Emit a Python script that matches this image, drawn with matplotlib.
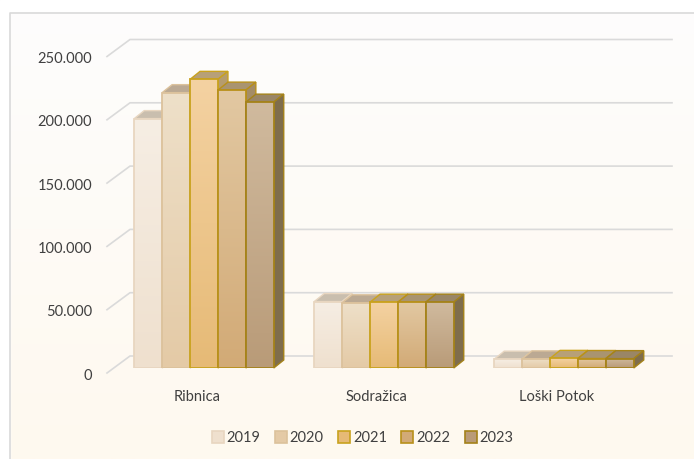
import matplotlib.pyplot as plt
import numpy as np
from matplotlib.patches import Polygon, Rectangle
from matplotlib.lines import Line2D
from matplotlib.colors import LinearSegmentedColormap

plt.rcParams['font.family'] = ['Lato', 'DejaVu Sans']

municipalities = ["Ribnica", "Sodražica", "Loški Potok"]
years = ["2019", "2020", "2021", "2022", "2023"]
values = {
    "2019": [197000, 52500, 7000],
    "2020": [217500, 51500, 7200],
    "2021": [228000, 52000, 7600],
    "2022": [219500, 52000, 7500],
    "2023": [210000, 52000, 7400],
}
y_ticks = [0, 50000, 100000, 150000, 200000, 250000]
y_tick_labels = ["0", "50.000", "100.000", "150.000", "200.000", "250.000"]

# front colour (top, bottom), edge, top face, side face
face_top = ["#f6eee4", "#eee0c9", "#f4d2a2", "#e2c8a2", "#d0ba9e"]
face_bot = ["#efe0ce", "#e4caa6", "#e6ba76", "#d2aa76", "#b99b78"]
edge_col = ["#e8d6c0", "#dcc29c", "#c9a21e", "#b8901a", "#a4821a"]
top_col = ["#c9beae", "#bba993", "#b7a078", "#a99470", "#9a8666"]
side_col = ["#cfc3b2", "#c4b097", "#b59c6e", "#a48c66", "#7f6d4c"]

W, H = 694, 459
fig = plt.figure(figsize=(W / 100, H / 100), dpi=100)

# background
bg = fig.add_axes([0, 0, 1, 1], zorder=-5)
bg.set_axis_off()
grad = np.linspace(0, 1, 256)[:, None]
bg_cmap = LinearSegmentedColormap.from_list("bg", ["#fdfdfd", "#fff9ef"])
bg.imshow(grad, aspect="auto", cmap=bg_cmap, extent=[0, 1, 0, 1], origin="upper")
bg.set_xlim(0, 1)
bg.set_ylim(0, 1)
bg.add_patch(Rectangle((0, 0), 10 / W, 1, color="white", zorder=2))
bg.add_patch(Rectangle((0, 1 - 13 / H), 1, 13 / H, color="white", zorder=2))
bg.plot([10 / W, 10 / W, 1.0], [0, 1 - 13 / H, 1 - 13 / H], color="#d9d9d9", lw=1.2, zorder=3)

# axes = plane of the bar front faces
x0px, x1px, y0px, y1px = 114, 654, 368, 51.5
ax = fig.add_axes([x0px / W, 1 - y0px / H, (x1px - x0px) / W, (y0px - y1px) / H])
ax.set_xlim(-0.5, 2.5)
ax.set_ylim(0, 250000)
ax.set_axis_off()
ax.patch.set_alpha(0)

ux = 3 / (x1px - x0px)          # data units per px (x)
uy = 250000 / (y0px - y1px)     # data units per px (y)

# gridlines: back wall + diagonal to front axis
for v in y_ticks:
    bx0 = -0.5 + 16 * ux
    bx1 = -0.5 + 558 * ux
    by = v + 12 * uy
    fx = -0.5 - 7 * ux
    fy = v - 5 * uy
    ax.plot([fx, bx0, bx1], [fy, by, by], color="#dadada", lw=1.2, clip_on=False, zorder=0)

for v, lab in zip(y_ticks, y_tick_labels):
    ax.text(-0.5 - 22 * ux, v - 7.5 * uy, lab, ha="right", va="center",
            fontsize=10.5, color="#404040", clip_on=False)

x = np.arange(len(municipalities))
bw = 0.155
dx, dy = 10 * ux, 8 * uy
z = 2
for i, yr in enumerate(years):
    xs = x + (i - 2) * bw
    cmap = LinearSegmentedColormap.from_list("c" + yr, [face_top[i], face_bot[i]])
    bars = ax.bar(xs, values[yr], width=bw, color="none", edgecolor=edge_col[i],
                  linewidth=1.3, zorder=z + 2)
    for b, v in zip(bars, values[yr]):
        l = b.get_x()
        r = l + b.get_width()
        im = ax.imshow(grad, aspect="auto", cmap=cmap, extent=[l, r, 0, v],
                       origin="upper", zorder=z + 1)
        im.set_clip_path(b)
        top = Polygon([(l, v), (r, v), (r + dx, v + dy), (l + dx, v + dy)],
                      closed=True, facecolor=top_col[i], edgecolor=edge_col[i],
                      lw=1.0, zorder=z, clip_on=False)
        side = Polygon([(r, 0), (r + dx, dy), (r + dx, v + dy), (r, v)],
                       closed=True, facecolor=side_col[i], edgecolor=edge_col[i],
                       lw=1.0, zorder=z, clip_on=False)
        ax.add_patch(top)
        ax.add_patch(side)
    z += 4

ax.set_xlim(-0.5, 2.5)
ax.set_ylim(0, 250000)

for i, name in enumerate(municipalities):
    ax.text(i - 7 * ux, -29 * uy, name, ha="center", va="center",
            fontsize=10.5, color="#404040", clip_on=False)

handles = [Line2D([0], [0], marker="s", linestyle="none", markersize=8,
                  markerfacecolor=face_bot[i], markeredgecolor=edge_col[i],
                  markeredgewidth=1.2) for i in range(len(years))]
fig.legend(handles, years, loc="center", bbox_to_anchor=(362 / W, 1 - 438 / H),
           ncol=5, frameon=False, fontsize=10.5, handletextpad=0.1,
           columnspacing=0.9, handlelength=1.0, labelcolor="#404040")

fig.savefig("out.png", dpi=100)
